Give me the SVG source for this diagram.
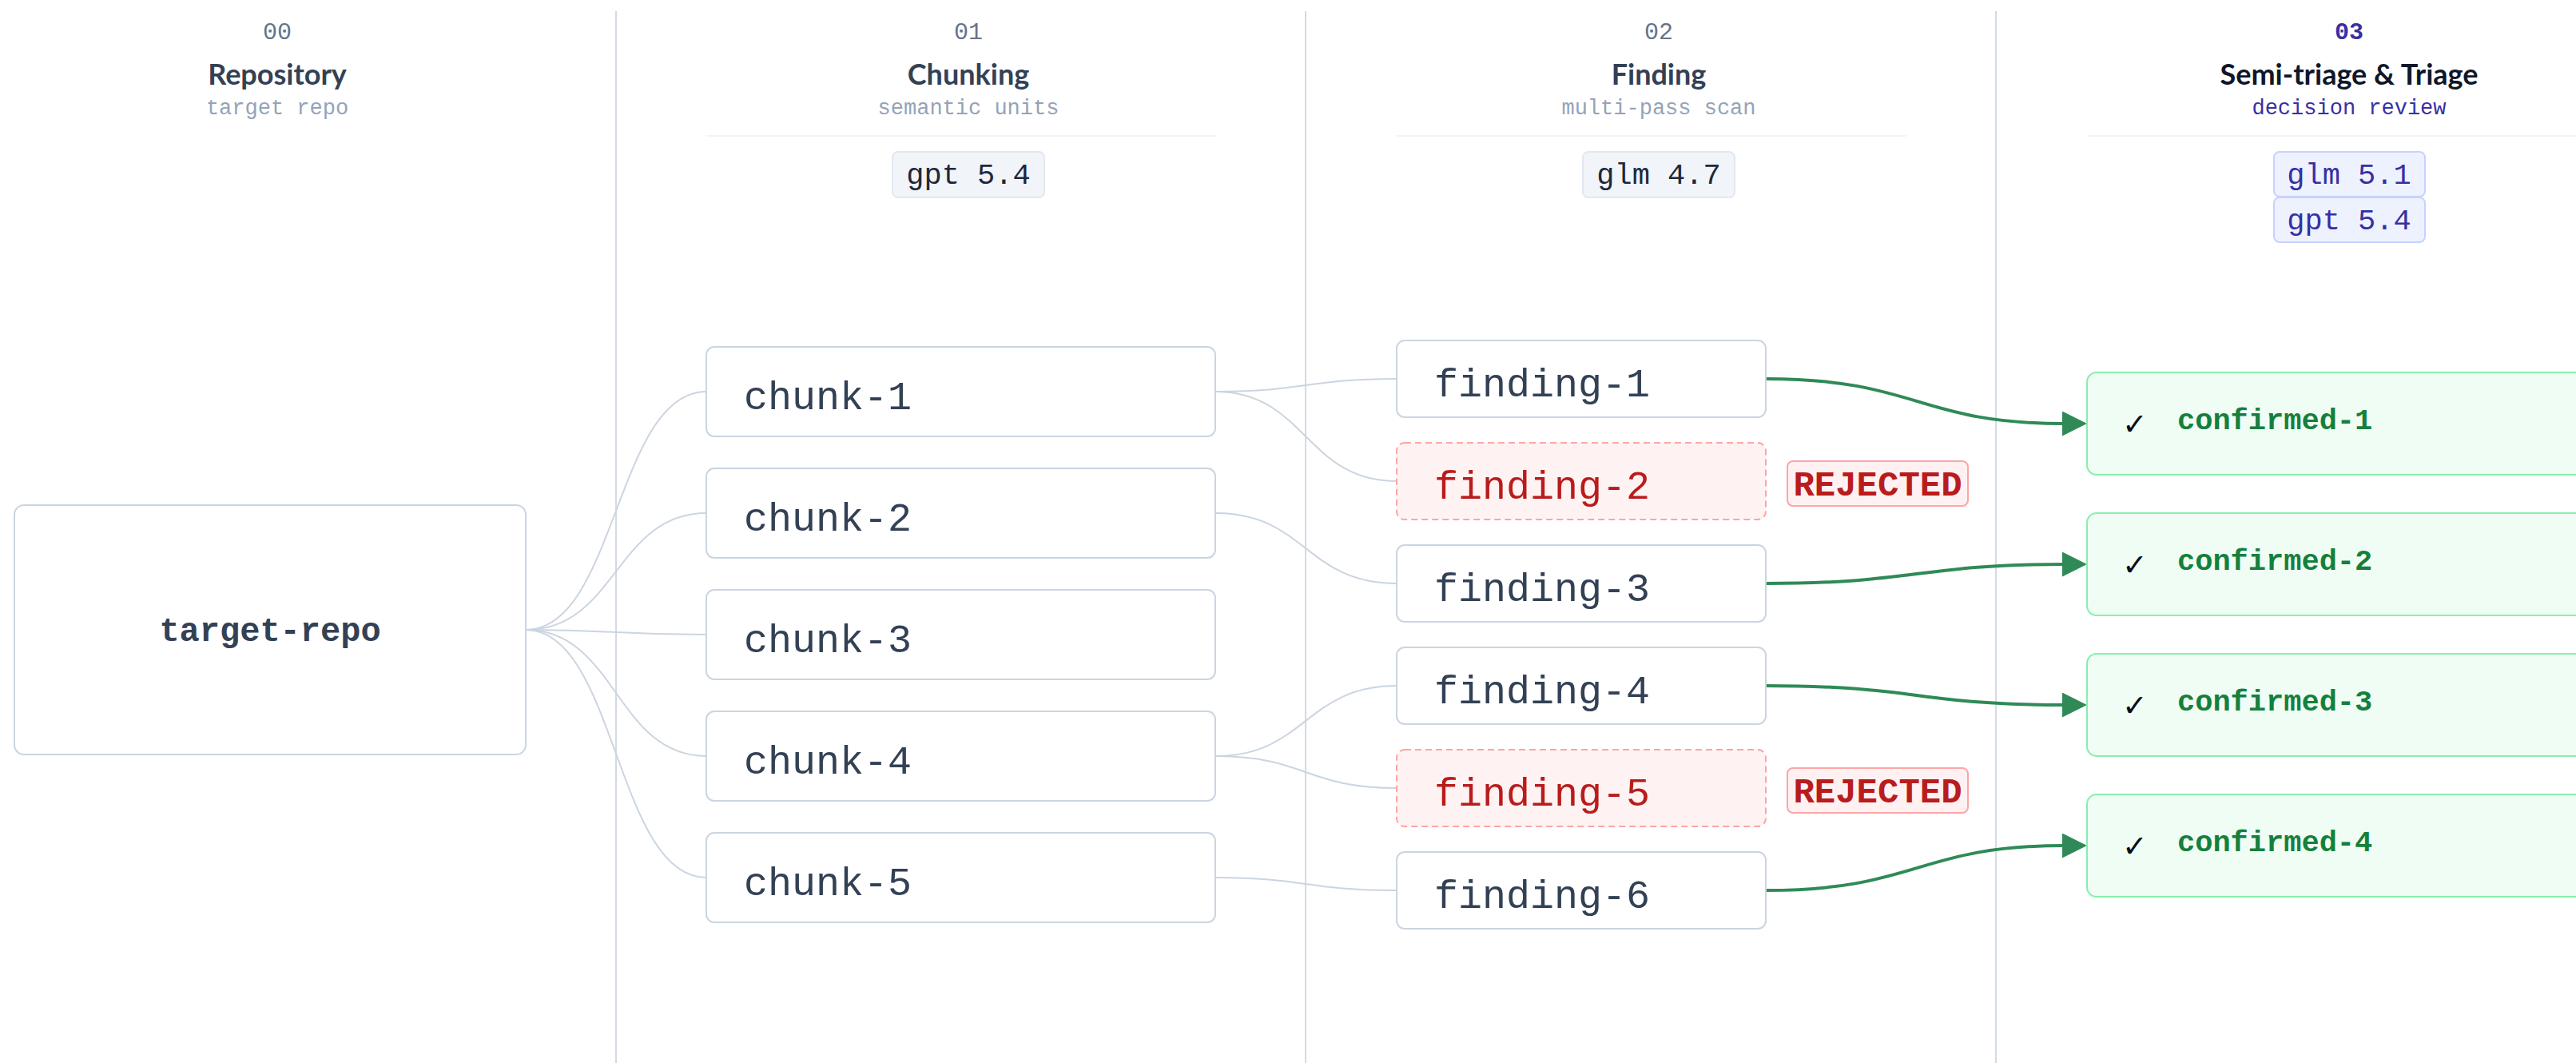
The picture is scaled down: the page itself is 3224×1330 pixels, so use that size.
<svg xmlns="http://www.w3.org/2000/svg" width="3224" height="1330" viewBox="0 0 3224 1330">
<style>
.num{font-family:"Liberation Mono","DejaVu Sans Mono",monospace;font-size:30px;fill:#64748b;text-anchor:middle}
.num.act{fill:#3730a3;font-weight:700}
.ttl{font-family:Lato,"Noto Sans",sans-serif;font-weight:700;font-size:36px;fill:#334155;text-anchor:middle}
.ttl.act{fill:#0f172a}
.sub{font-family:"Liberation Mono","DejaVu Sans Mono",monospace;font-size:27px;fill:#94a3b8;text-anchor:middle}
.sub.act{fill:#3730a3}
.sep{stroke:#f1f5f9;stroke-width:2}
.div{stroke:#d3dae5;stroke-width:2}
.badge{fill:#f1f5f9;stroke:#e2e8f0;stroke-width:2}
.badge.act{fill:#eef2ff;stroke:#c7d2fe}
.btxt{font-family:"Liberation Mono","DejaVu Sans Mono",monospace;font-size:37px;fill:#1e293b;text-anchor:middle}
.btxt.act{fill:#3730a3}
.box{fill:#ffffff;stroke:#cbd5e1;stroke-width:2}
.rej{fill:#fef2f2;stroke:#fca5a5;stroke-width:2;stroke-dasharray:8 5}
.ok{fill:#f0fdf4;stroke:#86efac;stroke-width:2}
.lbl{font-family:"Liberation Mono","DejaVu Sans Mono",monospace;font-size:50px;fill:#334155}
.lbl.red{fill:#b91c1c}
.repo{font-family:"Liberation Mono","DejaVu Sans Mono",monospace;font-size:42px;font-weight:700;fill:#334155;text-anchor:middle}
.tag{fill:#fff1f2;stroke:#fca5a5;stroke-width:2}
.tagt{font-family:"Liberation Mono","DejaVu Sans Mono",monospace;font-size:44px;font-weight:700;fill:#b91c1c;text-anchor:middle}
.conf{font-family:"Liberation Mono","DejaVu Sans Mono",monospace;font-size:37px;font-weight:700;fill:#15803d}
.chk{font-family:"DejaVu Sans",sans-serif;font-size:38px;font-weight:700;fill:#0b0f19}
.e{fill:none;stroke:#cbd5e1;stroke-width:2}
.g{fill:none;stroke:#2f8a57;stroke-width:4;marker-end:url(#ah)}
</style>
<defs>
<marker id="ah" markerUnits="userSpaceOnUse" markerWidth="32" markerHeight="32" refX="2" refY="15.5" orient="auto">
<path d="M0,0 L31,15.5 L0,31 z" fill="#2f8a57"/>
</marker>
</defs>
<rect width="3224" height="1330" fill="#ffffff"/>

<g id="columns">
<line class="div" x1="771" y1="14" x2="771" y2="1330"/>
<line class="div" x1="1634" y1="14" x2="1634" y2="1330"/>
<line class="div" x1="2498" y1="14" x2="2498" y2="1330"/>
<line class="sep" x1="884" y1="170" x2="1522" y2="170"/>
<line class="sep" x1="1748" y1="170" x2="2386" y2="170"/>
<line class="sep" x1="2612" y1="170" x2="3224" y2="170"/>
</g>

<g id="header-0">
<text class="num" x="347" y="49">00</text>
<text class="ttl" x="347" y="106">Repository</text>
<text class="sub" x="347" y="143">target repo</text>
</g>
<g id="header-1">
<text class="num" x="1212" y="49">01</text>
<text class="ttl" x="1212" y="106">Chunking</text>
<text class="sub" x="1212" y="143">semantic units</text>
<rect class="badge" x="1117" y="190" width="190" height="57" rx="7"/>
<text class="btxt" x="1212" y="230">gpt 5.4</text>
</g>
<g id="header-2">
<text class="num" x="2076" y="49">02</text>
<text class="ttl" x="2076" y="106">Finding</text>
<text class="sub" x="2076" y="143">multi-pass scan</text>
<rect class="badge" x="1981" y="190" width="190" height="57" rx="7"/>
<text class="btxt" x="2076" y="230">glm 4.7</text>
</g>
<g id="header-3">
<text class="num act" x="2940" y="49">03</text>
<text class="ttl act" x="2940" y="106">Semi-triage &amp; Triage</text>
<text class="sub act" x="2940" y="143">decision review</text>
<rect class="badge act" x="2846" y="190" width="189" height="56" rx="7"/>
<text class="btxt act" x="2940" y="230">glm 5.1</text>
<rect class="badge act" x="2846" y="247" width="189" height="56" rx="7"/>
<text class="btxt act" x="2940" y="287">gpt 5.4</text>
</g>

<g id="connectors">
<path class="e" d="M658,788 C771,788 771,490 884,490"/>
<path class="e" d="M658,788 C771,788 771,642 884,642"/>
<path class="e" d="M658,788 C771,788 771,794 884,794"/>
<path class="e" d="M658,788 C771,788 771,946 884,946"/>
<path class="e" d="M658,788 C771,788 771,1098 884,1098"/>
<path class="e" d="M1521,490 C1634,490 1634,474 1748,474"/>
<path class="e" d="M1521,490 C1634,490 1634,602 1748,602"/>
<path class="e" d="M1521,642 C1634,642 1634,730 1748,730"/>
<path class="e" d="M1521,946 C1634,946 1634,858 1748,858"/>
<path class="e" d="M1521,946 C1634,946 1634,986 1748,986"/>
<path class="e" d="M1521,1098 C1634,1098 1634,1114 1748,1114"/>
<path class="g" d="M2210,474 C2400,474 2400,530 2583,530"/>
<path class="g" d="M2210,730 C2400,730 2400,706 2583,706"/>
<path class="g" d="M2210,858 C2400,858 2400,882 2583,882"/>
<path class="g" d="M2210,1114 C2400,1114 2400,1058 2583,1058"/>
</g>

<g id="target-repo">
<rect class="box" x="18" y="632" width="640" height="312" rx="12"/>
<text class="repo" x="338" y="802">target-repo</text>
</g>

<g id="chunk-1"><rect class="box" x="884" y="434" width="637" height="112" rx="10"/><text class="lbl" x="931" y="512">chunk-1</text></g>
<g id="chunk-2"><rect class="box" x="884" y="586" width="637" height="112" rx="10"/><text class="lbl" x="931" y="664">chunk-2</text></g>
<g id="chunk-3"><rect class="box" x="884" y="738" width="637" height="112" rx="10"/><text class="lbl" x="931" y="816">chunk-3</text></g>
<g id="chunk-4"><rect class="box" x="884" y="890" width="637" height="112" rx="10"/><text class="lbl" x="931" y="968">chunk-4</text></g>
<g id="chunk-5"><rect class="box" x="884" y="1042" width="637" height="112" rx="10"/><text class="lbl" x="931" y="1120">chunk-5</text></g>

<g id="finding-1"><rect class="box" x="1748" y="426" width="462" height="96" rx="10"/><text class="lbl" x="1795" y="496">finding-1</text></g>
<g id="finding-2"><rect class="rej" x="1748" y="554" width="462" height="96" rx="10"/><text class="lbl red" x="1795" y="624">finding-2</text>
<rect class="tag" x="2237" y="577" width="226" height="56" rx="7"/><text class="tagt" x="2350" y="620">REJECTED</text></g>
<g id="finding-3"><rect class="box" x="1748" y="682" width="462" height="96" rx="10"/><text class="lbl" x="1795" y="752">finding-3</text></g>
<g id="finding-4"><rect class="box" x="1748" y="810" width="462" height="96" rx="10"/><text class="lbl" x="1795" y="880">finding-4</text></g>
<g id="finding-5"><rect class="rej" x="1748" y="938" width="462" height="96" rx="10"/><text class="lbl red" x="1795" y="1008">finding-5</text>
<rect class="tag" x="2237" y="961" width="226" height="56" rx="7"/><text class="tagt" x="2350" y="1004">REJECTED</text></g>
<g id="finding-6"><rect class="box" x="1748" y="1066" width="462" height="96" rx="10"/><text class="lbl" x="1795" y="1136">finding-6</text></g>

<g id="confirmed-1"><rect class="ok" x="2612" y="466" width="700" height="128" rx="12"/><text class="chk" x="2656" y="544">✓</text><text class="conf" x="2725" y="537">confirmed-1</text></g>
<g id="confirmed-2"><rect class="ok" x="2612" y="642" width="700" height="128" rx="12"/><text class="chk" x="2656" y="720">✓</text><text class="conf" x="2725" y="713">confirmed-2</text></g>
<g id="confirmed-3"><rect class="ok" x="2612" y="818" width="700" height="128" rx="12"/><text class="chk" x="2656" y="896">✓</text><text class="conf" x="2725" y="889">confirmed-3</text></g>
<g id="confirmed-4"><rect class="ok" x="2612" y="994" width="700" height="128" rx="12"/><text class="chk" x="2656" y="1072">✓</text><text class="conf" x="2725" y="1065">confirmed-4</text></g>
</svg>
